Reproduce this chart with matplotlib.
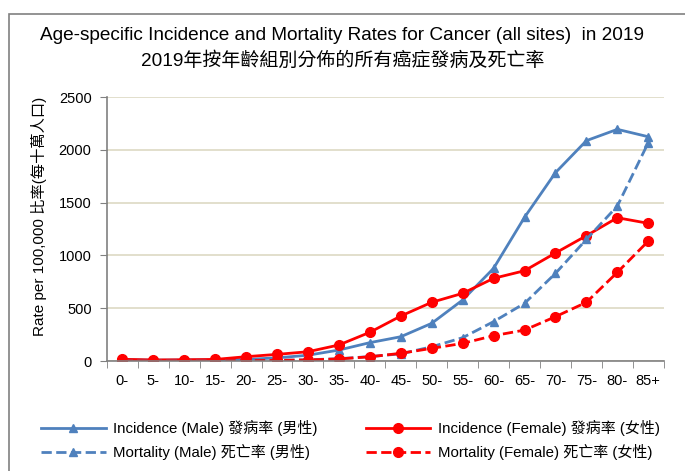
import matplotlib.pyplot as plt
from matplotlib.patches import Rectangle

plt.rcParams['font.family'] = ['Liberation Sans', 'Noto Sans CJK TC', 'DejaVu Sans']

# Age groups
ages = ['0-', '5-', '10-', '15-', '20-', '25-', '30-', '35-', '40-', '45-',
        '50-', '55-', '60-', '65-', '70-', '75-', '80-', '85+']

# Rates per 100,000
inc_male = [15, 8, 10, 12, 15, 30, 55, 104, 174, 230, 357, 578, 878, 1361, 1784, 2087, 2194, 2124]
inc_female = [16, 10, 12, 15, 41, 63, 88, 152, 272, 426, 556, 641, 783, 855, 1023, 1187, 1357, 1304]
mort_male = [3, 2, 3, 4, 5, 7, 12, 22, 42, 68, 135, 221, 373, 546, 830, 1152, 1468, 2068]
mort_female = [2, 2, 2, 3, 4, 6, 10, 20, 40, 73, 120, 167, 240, 293, 420, 556, 840, 1136]

blue = '#4f81bd'
red = '#ff0000'

fig = plt.figure(figsize=(6.85, 4.71), dpi=100)
ax = fig.add_axes([0.156, 0.2335, 0.813, 0.5605])

x = range(len(ages))
l1, = ax.plot(x, inc_male, color=blue, lw=2, marker='^', ms=5.5,
              label='Incidence (Male) 發病率 (男性)')
l2, = ax.plot(x, inc_female, color=red, lw=2, marker='o', ms=7,
              label='Incidence (Female) 發病率 (女性)')
l3, = ax.plot(x, mort_male, color=blue, lw=2, ls='--', marker='^', ms=5.5,
              label='Mortality (Male) 死亡率 (男性)')
l4, = ax.plot(x, mort_female, color=red, lw=2, ls='--', marker='o', ms=7,
              label='Mortality (Female) 死亡率 (女性)')

ax.set_xlim(-0.5, len(ages) - 0.5)
ax.set_ylim(0, 2500)
ax.set_yticks(range(0, 2501, 500))
ax.set_xticks(list(x))
ax.set_xticklabels(ages, fontsize=10.5)
ax.set_xticks([i - 0.5 for i in range(len(ages) + 1)], minor=True)
ax.tick_params(axis='x', which='major', length=0, pad=9)
ax.tick_params(axis='x', which='minor', length=5, direction='out', color='#808080')
ax.tick_params(axis='y', length=5, direction='out', color='#808080', labelsize=10.5, pad=6)
ax.yaxis.grid(True, color='#ddd9c3', lw=1.2)
ax.set_axisbelow(True)
for s in ['top', 'right']:
    ax.spines[s].set_visible(False)
for s in ['left', 'bottom']:
    ax.spines[s].set_color('#808080')
    ax.spines[s].set_linewidth(1.2)

fig.text(39 / 685, 1 - 216 / 471, 'Rate per 100,000 比率(每十萬人口)', rotation=90,
         ha='center', va='center', fontsize=11)

fig.text(0.5, 1 - 36 / 471, 'Age-specific Incidence and Mortality Rates for Cancer (all sites)  in 2019',
         ha='center', va='center', fontsize=13.7)
fig.text(0.5, 1 - 61 / 471, '2019年按年齡組別分佈的所有癌症發病及死亡率',
         ha='center', va='center', fontsize=13.7)

leg_kw = dict(loc='center left', frameon=False, fontsize=10.8, handlelength=4.3,
              handletextpad=0.5, labelspacing=0.5, borderpad=0, borderaxespad=0)
leg1 = fig.legend([l1, l3], [l1.get_label(), l3.get_label()],
                  bbox_to_anchor=(41 / 685, 1 - 440 / 471), **leg_kw)
leg2 = fig.legend([l2, l4], [l2.get_label(), l4.get_label()],
                  bbox_to_anchor=(366 / 685, 1 - 440 / 471), **leg_kw)

fig.patches.append(Rectangle((9 / 685, -0.05), 1.0, 1 - 14 / 471 + 0.05,
                             transform=fig.transFigure, fill=False,
                             edgecolor='#808080', lw=1.2))

fig.savefig('out.png', dpi=100)
